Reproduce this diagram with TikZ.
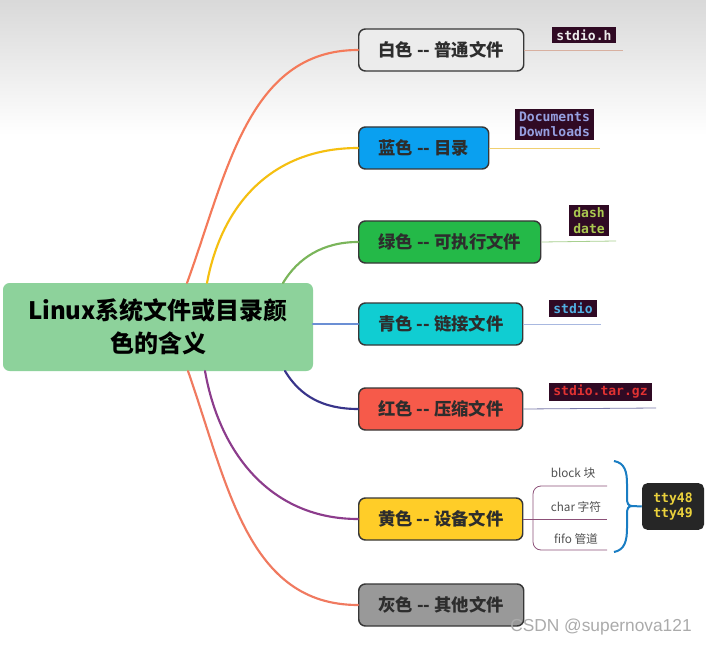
\documentclass[tikz,border=0pt]{standalone}
\usepackage{fontspec}
\usepackage{tikz}
\setmainfont{Noto Sans CJK SC}
\setsansfont{Liberation Sans}
\setmonofont{DejaVu Sans Mono}
\definecolor{rootgreen}{RGB}{141, 210, 155}
\definecolor{boxline}{RGB}{55, 55, 55}
\definecolor{boxtext}{RGB}{45, 45, 45}
\definecolor{whitebox}{RGB}{236, 236, 236}
\definecolor{bluebox}{RGB}{10, 160, 240}
\definecolor{greenbox}{RGB}{36, 185, 72}
\definecolor{cyanbox}{RGB}{16, 205, 210}
\definecolor{redbox}{RGB}{246, 90, 74}
\definecolor{yellowbox}{RGB}{255, 205, 40}
\definecolor{graybox}{RGB}{153, 153, 153}
\definecolor{termbg}{RGB}{48, 10, 36}
\definecolor{ttybg}{RGB}{38, 38, 38}
\definecolor{ttytext}{RGB}{235, 210, 60}
\definecolor{bracecol}{RGB}{25, 125, 195}
\definecolor{subline}{RGB}{140, 80, 120}

\begin{document}
\begin{tikzpicture}[x=0.75pt, y=-0.75pt,
  topic/.style={draw=boxline, line width=1.1pt, rounded corners=5pt,
    anchor=west, minimum height=31.5pt, text=boxtext,
    font=\fontsize{13}{15}\selectfont\bfseries},
  term/.style={fill=termbg, inner xsep=3pt, inner ysep=2pt, align=left,
    font=\fontsize{9.8}{11.5}\selectfont\ttfamily\bfseries},
  sub/.style={font=\fontsize{8.8}{10}\selectfont, text=black!68},
  branch/.style={line width=1.6pt, line cap=round},
  twig/.style={line width=0.6pt}]

  \useasboundingbox (0, 0) rectangle (706, 645);

  % ── Background ────────────────────────────────────────────────────────────
  \fill[white] (0, 0) rectangle (706, 645);
  \fill[top color=black!15, bottom color=white] (0, 0) rectangle (706, 135);

  % ── Root ──────────────────────────────────────────────────────────────────
  \node[fill=rootgreen, rounded corners=5pt, minimum width=232.5pt,
        minimum height=66pt, align=center,
        font=\fontsize{18}{25}\selectfont\bfseries] (root) at (158, 327)
    {Linux系统文件或目录颜\\色的含义};

  % ── Topics ────────────────────────────────────────────────────────────────
  \node[topic, fill=whitebox, minimum width=123.75pt] (white) at (358, 50)
    {白色 {-}{-} 普通文件};
  \node[topic, fill=bluebox, minimum width=97.5pt] (blue) at (358, 148)
    {蓝色 {-}{-} 目录};
  \node[topic, fill=greenbox, minimum width=136.5pt] (green) at (358, 242)
    {绿色 {-}{-} 可执行文件};
  \node[topic, fill=cyanbox, minimum width=123pt] (cyan) at (358, 324)
    {青色 {-}{-} 链接文件};
  \node[topic, fill=redbox, minimum width=123pt] (red) at (358, 409)
    {红色 {-}{-} 压缩文件};
  \node[topic, fill=yellowbox, minimum width=123pt] (yellow) at (358, 519)
    {黄色 {-}{-} 设备文件};
  \node[topic, fill=graybox, minimum width=123.75pt] (gray) at (358, 605)
    {灰色 {-}{-} 其他文件};

  % ── Branches from the root ───────────────────────────────────────────────
  \coordinate (r1) at (187, 283);
  \coordinate (r2) at (207, 283);
  \coordinate (r3) at (283, 283);
  \coordinate (r4) at (313, 324);
  \coordinate (r5) at (285, 371);
  \coordinate (r6) at (205, 371);
  \coordinate (r7) at (188, 371);
  \draw[branch, color={rgb,255:red,244;green,122;blue,90}]
    (r1) .. controls +(40, -110) and +(-110, 0) .. (white.west);
  \draw[branch, color={rgb,255:red,245;green,191;blue,16}]
    (r2) .. controls +(15, -80) and +(-85, 0) .. (blue.west);
  \draw[branch, color={rgb,255:red,122;green,181;blue,90}]
    (r3) .. controls +(15, -25) and +(-35, 0) .. (green.west);
  \draw[branch, color={rgb,255:red,107;green,143;blue,212}]
    (r4) -- (cyan.west);
  \draw[branch, color={rgb,255:red,56;green,52;blue,138}]
    (r5) .. controls +(15, 25) and +(-35, 0) .. (red.west);
  \draw[branch, color={rgb,255:red,140;green,60;blue,140}]
    (r6) .. controls +(15, 85) and +(-85, 0) .. (yellow.west);
  \draw[branch, color={rgb,255:red,240;green,122;blue,96}]
    (r7) .. controls +(40, 115) and +(-110, 0) .. (gray.west);

  % ── Leaves ────────────────────────────────────────────────────────────────
  \coordinate (white-end) at (623, 50);
  \coordinate (blue-end) at (600, 148);
  \coordinate (green-end) at (616, 241);
  \coordinate (cyan-end) at (601, 324);
  \coordinate (red-end) at (656, 408);
  \draw[twig, color={rgb,255:red,216;green,176;blue,160}] (white.east) -- (white-end);
  \draw[twig, color={rgb,255:red,240;green,208;blue,112}] (blue.east) -- (blue-end);
  \draw[twig, color={rgb,255:red,168;green,208;blue,144}] (green.east) -- (green-end);
  \draw[twig, color={rgb,255:red,168;green,184;blue,224}] (cyan.east) -- (cyan-end);
  \draw[twig, color={rgb,255:red,120;green,120;blue,168}] (red.east) -- (red-end);

  \node[term, text=black!8] (stdioh) at (584, 35) {stdio.h};
  \node[term, text={rgb,255:red,150;green,160;blue,225}] (docs) at (554.5, 124.5)
    {Documents\\Downloads};
  \node[term, text={rgb,255:red,170;green,200;blue,80}] (dash) at (589, 220.5)
    {dash\\date};
  \node[term, text={rgb,255:red,80;green,175;blue,225}] (stdio) at (573, 308.5)
    {stdio};
  \node[term, text={rgb,255:red,225;green,50;blue,50}] (targz) at (600.5, 392)
    {stdio.tar.gz};

  % ── Device files ─────────────────────────────────────────────────────────
  \coordinate (block-end) at (607, 486);
  \coordinate (char-end) at (607, 519);
  \coordinate (fifo-end) at (607, 550);
  \draw[twig, subline] (yellow.east) -- (char-end);
  \draw[twig, subline, rounded corners=6pt]
    (block-end) -- (533, 486) -- (533, 550) -- (fifo-end);
  \node[sub] (block) at (573, 473) {block 块};
  \node[sub] (char) at (576, 507) {char 字符};
  \node[sub] (fifo) at (576, 539) {fifo 管道};

  \node[fill=ttybg, rounded corners=4pt, minimum width=46.5pt,
        minimum height=35pt, inner sep=1pt, align=left, text=ttytext,
        font=\fontsize{9.8}{11.5}\selectfont\ttfamily\bfseries] (tty)
    at (673, 506.5) {tty48\\tty49};

  \coordinate (brtip) at (632, 506);
  \draw[line width=1.5pt, bracecol]
    (614, 461) .. controls (625, 463) and (627, 472) .. (627, 484)
    -- (627, 498) .. controls (627, 503) and (628, 506) .. (brtip)
    .. controls (628, 506) and (627, 509) .. (627, 514)
    -- (627, 528) .. controls (627, 540) and (625, 550) .. (614, 552);
  \draw[line width=1.5pt, bracecol] (brtip) -- (tty.west);

  % ── Watermark ────────────────────────────────────────────────────────────
  \node[font=\fontsize{13}{15}\selectfont\sffamily, text=black!33]
    (mark) at (601, 627) {CSDN @supernova121};

\end{tikzpicture}
\end{document}
